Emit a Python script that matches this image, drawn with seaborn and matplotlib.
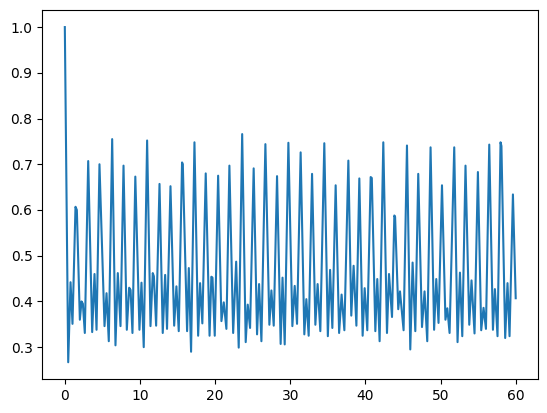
import matplotlib
matplotlib.use("Agg")
import matplotlib.pyplot as plt
import seaborn as sns

# values (turning points of the signal)
time = [0.0, 0.45, 0.76, 1.02, 1.42, 1.6, 2.0, 2.22, 2.4, 2.66, 3.11, 3.64, 3.95, 4.22,
        4.61, 5.28, 5.55, 5.85, 6.30, 6.74, 7.05, 7.41, 7.81, 8.25, 8.56, 8.75, 9.0,
        9.38, 9.93, 10.2, 10.5, 10.95, 11.4, 11.7, 11.85, 12.15, 12.6, 13.03, 13.35,
        13.6, 14.06, 14.55, 14.85, 15.16, 15.6, 15.7, 16.27, 16.5, 16.8, 17.25,
        17.74, 18.0, 18.3, 18.75, 19.26, 19.5, 19.65, 19.95, 20.4, 20.84, 21.15,
        21.5, 21.9, 22.4, 22.8, 23.14, 23.6, 24.07, 24.34, 24.65, 25.13, 25.58,
        25.85, 26.16, 26.69, 27.22, 27.49, 27.8, 28.24, 28.72, 28.97, 29.26, 29.75,
        30.28, 30.59, 30.9, 31.38, 31.87, 32.14, 32.45, 32.9, 33.34, 33.64, 34.0,
        34.53, 35.0, 35.3, 35.6, 36.04, 36.5, 36.83, 37.2, 37.73, 38.12, 38.43,
        38.8, 39.19, 39.63, 39.9, 40.25, 40.7, 40.85, 41.32, 41.58, 41.89, 42.38,
        42.87, 43.14, 43.54, 43.85, 43.95, 44.37, 44.6, 45.08, 45.53, 45.97, 46.28,
        46.64, 47.03, 47.53, 47.87, 48.23, 48.67, 49.14, 49.43, 49.73, 50.19,
        50.65, 50.9, 51.2, 51.82, 52.26, 52.58, 52.89, 53.32, 53.82, 54.12, 54.52,
        54.97, 55.41, 55.72, 56.04, 56.48, 56.97, 57.23, 57.58, 57.98, 58.1, 58.6,
        58.91, 59.18, 59.63, 60.0]
value = [1.0, 0.267, 0.442, 0.351, 0.607, 0.60, 0.36, 0.40, 0.395, 0.331, 0.707, 0.333,
         0.46, 0.338, 0.70, 0.346, 0.418, 0.313, 0.755, 0.304, 0.462, 0.346, 0.697,
         0.338, 0.43, 0.425, 0.331, 0.673, 0.338, 0.441, 0.30, 0.752, 0.346, 0.462,
         0.455, 0.347, 0.657, 0.331, 0.458, 0.34, 0.652, 0.347, 0.433, 0.335, 0.704,
         0.70, 0.335, 0.473, 0.29, 0.748, 0.325, 0.44, 0.352, 0.68, 0.325, 0.454,
         0.452, 0.325, 0.675, 0.357, 0.398, 0.34, 0.697, 0.331, 0.487, 0.299, 0.766,
         0.311, 0.393, 0.342, 0.691, 0.328, 0.438, 0.313, 0.744, 0.349, 0.424, 0.347,
         0.674, 0.307, 0.452, 0.306, 0.747, 0.346, 0.434, 0.351, 0.726, 0.328, 0.405,
         0.325, 0.679, 0.349, 0.438, 0.335, 0.746, 0.324, 0.469, 0.342, 0.654, 0.331,
         0.415, 0.337, 0.708, 0.369, 0.478, 0.347, 0.669, 0.325, 0.429, 0.337, 0.672,
         0.67, 0.335, 0.449, 0.313, 0.748, 0.331, 0.46, 0.366, 0.588, 0.585, 0.383,
         0.422, 0.337, 0.741, 0.295, 0.485, 0.335, 0.679, 0.344, 0.422, 0.313, 0.737,
         0.338, 0.449, 0.353, 0.654, 0.36, 0.385, 0.331, 0.737, 0.311, 0.463, 0.324,
         0.697, 0.349, 0.446, 0.33, 0.683, 0.337, 0.386, 0.34, 0.743, 0.338, 0.427,
         0.324, 0.748, 0.74, 0.320, 0.44, 0.324, 0.634, 0.407]

fig, ax = plt.subplots(figsize=(5.47, 4.13), dpi=100)
fig.subplots_adjust(left=0.0773, right=0.984, bottom=0.0823, top=0.975)

sns.lineplot(x=time, y=value, color="#1f77b4", linewidth=1.5, ax=ax)

fig.savefig("out.png", dpi=100)
